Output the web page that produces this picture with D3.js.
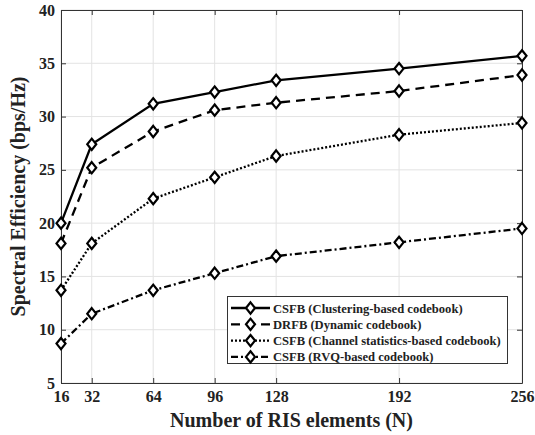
<!DOCTYPE html>
<html>
<head>
<meta charset="utf-8">
<script src="https://cdn.jsdelivr.net/npm/d3@7"></script>
<style>
  html, body { margin: 0; padding: 0; background: #fff; }
  svg { display: block; }
  text { font-family: "Liberation Serif", "Times New Roman", serif; font-weight: bold; fill: #222; }
</style>
</head>
<body>
<svg id="chart" width="535" height="435"></svg>
<script>
// Number of RIS elements on the x axis
const risElements = [16, 32, 64, 96, 128, 192, 256];
const xTicks = [16, 32, 64, 96, 128, 192, 256];
const yTicks = [5, 10, 15, 20, 25, 30, 35, 40];

// Spectral efficiency (bps/Hz) of each feedback scheme
const clusteringSE = [20.0, 27.4, 31.2, 32.3, 33.4, 34.5, 35.7];
const dynamicSE    = [18.1, 25.2, 28.6, 30.6, 31.3, 32.4, 33.9];
const channelStatSE = [13.7, 18.1, 22.3, 24.3, 26.3, 28.3, 29.4];
const rvqSE        = [8.7, 11.5, 13.7, 15.3, 16.9, 18.2, 19.5];

const seriesNames = [
  "CSFB (Clustering-based codebook)",
  "DRFB (Dynamic codebook)",
  "CSFB (Channel statistics-based codebook)",
  "CSFB (RVQ-based codebook)"
];
const seriesValues = [clusteringSE, dynamicSE, channelStatSE, rvqSE];
const seriesDash = ["none", "9,6", "2,2", "7,3,2,3"];

const svg = d3.select("#chart");
const margin = { left: 61, right: 13, top: 10, bottom: 52 };
const W = 535, H = 435;
const x = d3.scaleLinear().domain([16, 256]).range([margin.left, W - margin.right]);
const y = d3.scaleLinear().domain([5, 40]).range([H - margin.bottom, margin.top]);

// grid
const grid = svg.append("g");
grid.selectAll("line.gx").data(xTicks).join("line")
  .attr("x1", d => x(d)).attr("x2", d => x(d))
  .attr("y1", y(5)).attr("y2", y(40))
  .attr("stroke", "#e3e3e3").attr("stroke-width", 1);
grid.selectAll("line.gy").data(yTicks).join("line")
  .attr("y1", d => y(d)).attr("y2", d => y(d))
  .attr("x1", x(16)).attr("x2", x(256))
  .attr("stroke", "#e3e3e3").attr("stroke-width", 1);

// axes (ticks pointing inward)
const tickLen = 5;
const xAxis = svg.append("g").attr("transform", `translate(0,${y(5)})`)
  .call(d3.axisBottom(x).tickValues(xTicks).tickSize(-tickLen).tickPadding(8).tickSizeOuter(0));
const yAxis = svg.append("g").attr("transform", `translate(${x(16)},0)`)
  .call(d3.axisLeft(y).tickValues(yTicks).tickSize(-tickLen).tickPadding(6).tickSizeOuter(0));
const xTop = svg.append("g").attr("transform", `translate(0,${y(40)})`)
  .call(d3.axisTop(x).tickValues(xTicks).tickSize(-tickLen).tickFormat("").tickSizeOuter(0));
const yRight = svg.append("g").attr("transform", `translate(${x(256)},0)`)
  .call(d3.axisRight(y).tickValues(yTicks).tickSize(-tickLen).tickFormat("").tickSizeOuter(0));
[xAxis, yAxis, xTop, yRight].forEach(g => {
  g.selectAll("path, line").attr("stroke", "#333").attr("stroke-width", 1);
  g.selectAll("text").style("font-size", "16px").attr("fill", "#222")
    .style("font-family", "'Liberation Serif', serif").style("font-weight", "bold");
});

// axis titles
svg.append("text").attr("x", (x(16) + x(256)) / 2).attr("y", 427)
  .attr("text-anchor", "middle").style("font-size", "20px")
  .text("Number of RIS elements (N)");
svg.append("text").attr("transform", `translate(25,${(y(5) + y(40)) / 2}) rotate(-90)`)
  .attr("text-anchor", "middle").style("font-size", "20px")
  .text("Spectral Efficiency (bps/Hz)");

// diamond marker
const diamond = (cx, cy, s) => `M${cx},${cy - s * 1.25}L${cx + s},${cy}L${cx},${cy + s * 1.25}L${cx - s},${cy}Z`;

const line = d3.line().x((d, i) => x(risElements[i])).y(d => y(d));
seriesValues.forEach((vals, k) => {
  svg.append("path").datum(vals).attr("d", line)
    .attr("fill", "none").attr("stroke", "#000").attr("stroke-width", 2.3)
    .attr("stroke-dasharray", seriesDash[k]);
  svg.selectAll(null).data(vals).join("path")
    .attr("d", (d, i) => diamond(x(risElements[i]), y(d), 4.5))
    .attr("fill", "#fff").attr("stroke", "#000").attr("stroke-width", 2.2);
});

// legend
const lg = svg.append("g");
lg.append("rect").attr("x", 227.5).attr("y", 296.5).attr("width", 280).attr("height", 67)
  .attr("fill", "#fff").attr("stroke", "#333").attr("stroke-width", 1);
seriesNames.forEach((name, k) => {
  const yy = 308 + k * 16.3;
  lg.append("line").attr("x1", 231).attr("x2", 270).attr("y1", yy).attr("y2", yy)
    .attr("stroke", "#000").attr("stroke-width", 2.3).attr("stroke-dasharray", seriesDash[k]);
  lg.append("path").attr("d", diamond(250.5, yy, 4.5))
    .attr("fill", "#fff").attr("stroke", "#000").attr("stroke-width", 2.2);
  lg.append("text").attr("x", 273).attr("y", yy + 4.5).style("font-size", "12.6px").text(name);
});
</script>
</body>
</html>
